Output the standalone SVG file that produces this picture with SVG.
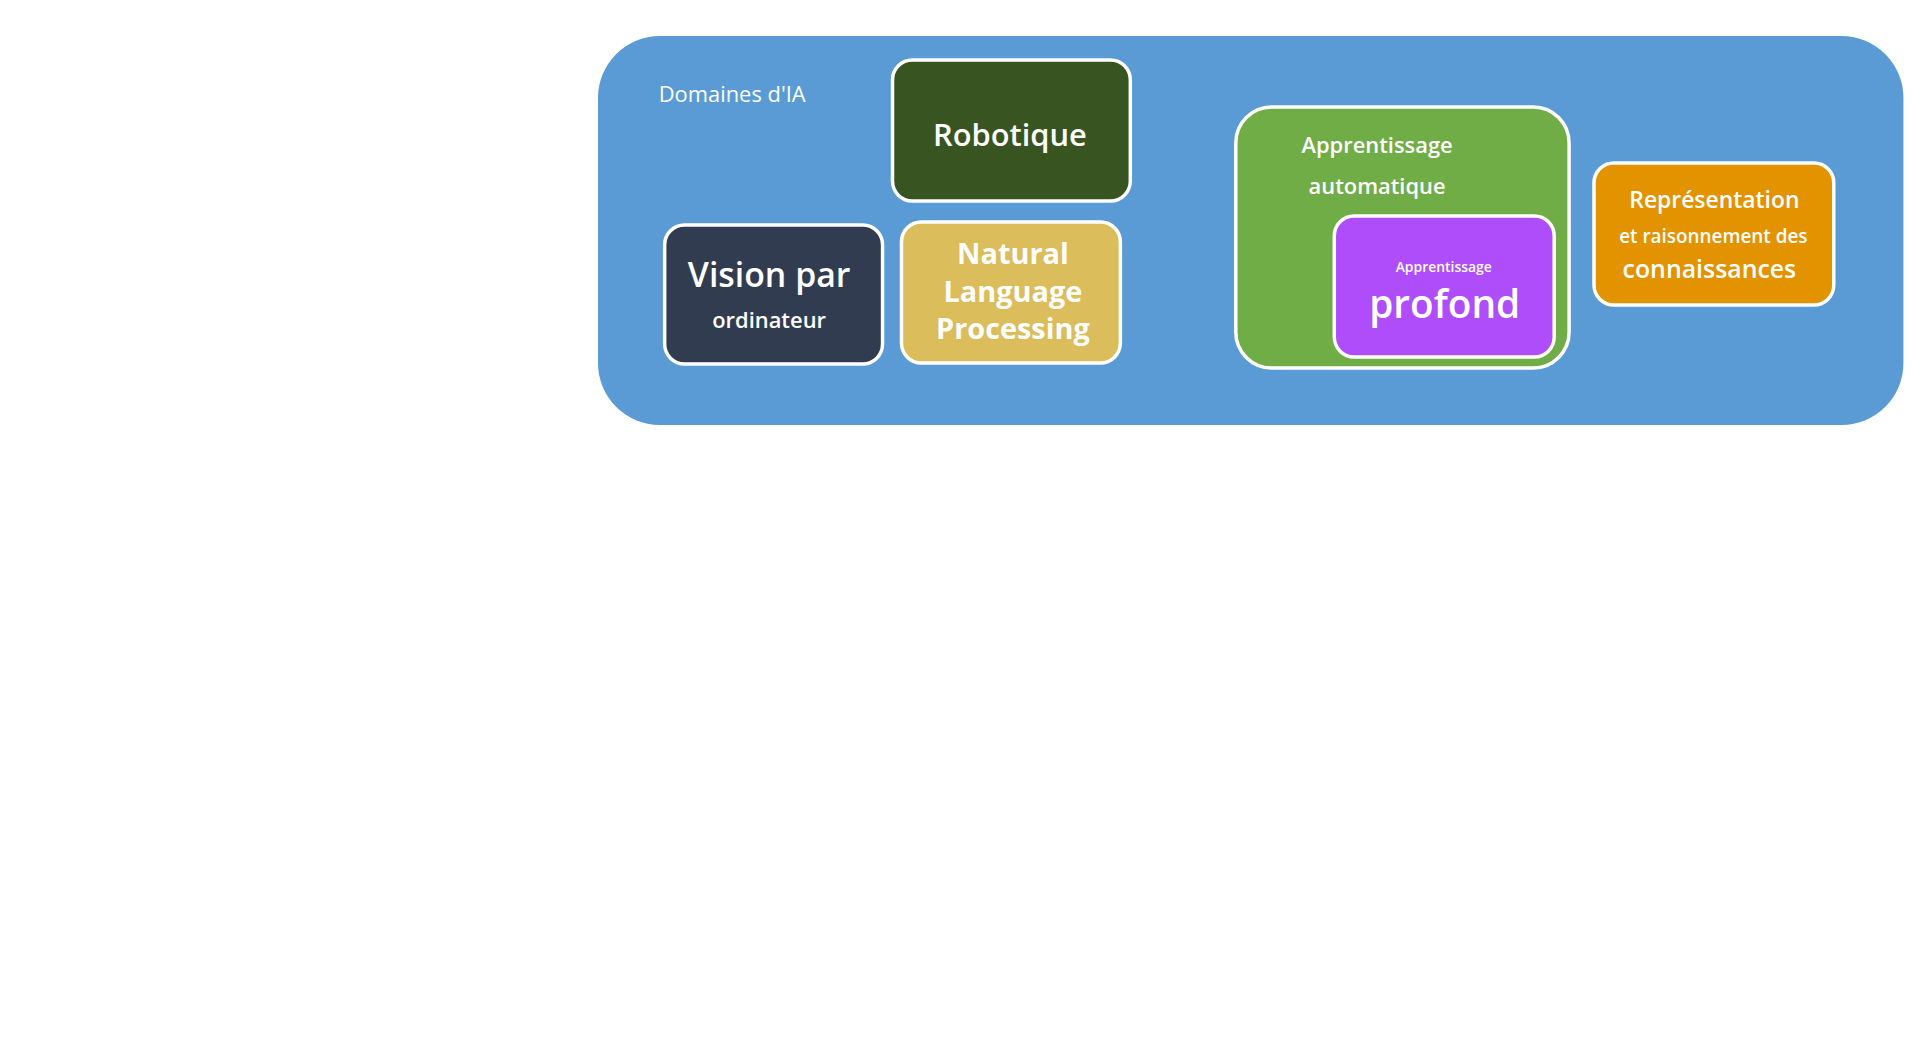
<svg xmlns="http://www.w3.org/2000/svg" width="1927" height="1037" viewBox="0 0 1927 1037">
<style>
text{font-family:"Open Sans","Noto Sans",sans-serif;fill:#fff;text-anchor:middle}
.b{stroke:#fff;stroke-width:3.5}
.t{font-weight:600}
</style>
<rect width="1927" height="1037" fill="#fff"/>
<g transform="scale(0.995,1)">
<g id="domaines">
<rect x="601" y="36" width="1312" height="389" rx="62" fill="#5A9BD5"/>
<text x="662" y="102" style="text-anchor:start" font-size="22">Domaines d'IA</text>
</g>
<g id="robotique">
<rect class="b" x="897" y="60" width="239" height="141" rx="20" fill="#375421"/>
<text class="t" x="1015" y="146" font-size="31">Robotique</text>
</g>
<g id="vision">
<rect class="b" x="668" y="225" width="219" height="139" rx="20" fill="#323C50"/>
<text class="t" x="773" y="287" font-size="34">Vision par</text>
<text class="t" x="773" y="328" font-size="22">ordinateur</text>
</g>
<g id="nlp">
<rect class="b" x="906" y="222" width="220" height="141" rx="20" fill="#DBBD5B"/>
<text x="1018" y="264" font-size="29" font-weight="700">Natural</text>
<text x="1018" y="302" font-size="29" font-weight="700">Language</text>
<text x="1018" y="339" font-size="29" font-weight="700">Processing</text>
</g>
<g id="ml">
<rect class="b" x="1242" y="107" width="335" height="261" rx="36" fill="#70AD47"/>
<text class="t" x="1384" y="153" font-size="22">Apprentissage</text>
<text class="t" x="1384" y="194" font-size="22">automatique</text>
</g>
<g id="dl">
<rect class="b" x="1341" y="216" width="221" height="141" rx="20" fill="#B04DFA"/>
<text class="t" x="1451" y="272" font-size="14">Apprentissage</text>
<text class="t" x="1452" y="318" font-size="39">profond</text>
</g>
<g id="kr">
<rect class="b" x="1602" y="163" width="241" height="142" rx="20" fill="#E39300"/>
<text class="t" x="1723" y="208" font-size="23">Représentation</text>
<text class="t" x="1722" y="243" font-size="19">et raisonnement des</text>
<text class="t" x="1718" y="278" font-size="25">connaissances</text>
</g>
<g id="connectors"/>
</g>
</svg>
